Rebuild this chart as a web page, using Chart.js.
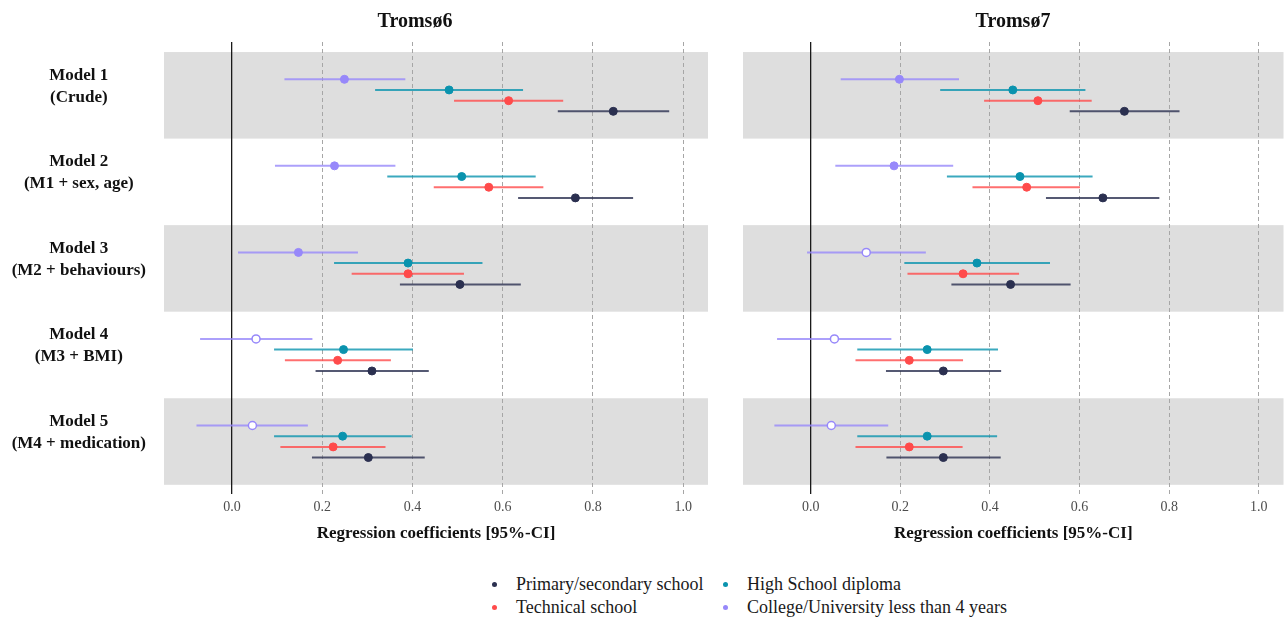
<!DOCTYPE html>
<html lang="en">
<head>
    <meta charset="UTF-8">
    <title>Tromsø6 / Tromsø7</title>
    <script src="https://cdn.jsdelivr.net/npm/chart.js@4.4.1/dist/chart.umd.min.js"></script>
    <style>
        html, body { margin: 0; padding: 0; background: #fff; overflow: hidden; }
        body { width: 1284px; height: 621px; position: relative; }
        .panel { position: absolute; top: 0; }
        .ptitle {
            position: absolute; top: 8px; width: 200px; margin-left: -100px; text-align: center;
            font-family: "Liberation Serif", serif; font-weight: bold; font-size: 20px; line-height: 24px; color: #111;
        }
        #legend {
            position: absolute; left: 492px; top: 573px;
            display: grid; grid-template-columns: 231px 290px;
            font-family: "Liberation Serif", serif; font-size: 18px; color: #1a1a1a;
        }
        #legend .item { display: flex; align-items: center; height: 23px; white-space: nowrap; }
        #legend .dot { width: 5px; height: 5px; border-radius: 50%; margin-right: 19px; flex: none; }
    </style>
</head>
<body>
    <div class="panel" style="left:0;width:716px;height:548px;"><canvas id="t6"></canvas></div>
    <div class="panel" style="left:716px;width:573px;height:548px;"><canvas id="t7"></canvas></div>
    <div class="ptitle" style="left:415px;">Tromsø6</div>
    <div class="ptitle" style="left:1013px;">Tromsø7</div>
    <div id="legend"></div>

    <script>
        // categories
        const modelLabels = [
            ['Model 1', '(Crude)'],
            ['Model 2', '(M1 + sex, age)'],
            ['Model 3', '(M2 + behaviours)'],
            ['Model 4', '(M3 + BMI)'],
            ['Model 5', '(M4 + medication)']
        ];
        const seriesNames = ['Primary/secondary school', 'Technical school', 'High School diploma', 'College/University less than 4 years'];
        const seriesColors = ['#2b3050', '#ff4b4b', '#0a93ae', '#9788fa'];
        const xTicks = [0, 0.2, 0.4, 0.6, 0.8, 1.0];

        // Tromsø6
        const t6PrimEst = [0.845, 0.761, 0.505, 0.310, 0.302];
        const t6PrimLo  = [0.722, 0.634, 0.372, 0.185, 0.177];
        const t6PrimHi  = [0.969, 0.889, 0.640, 0.436, 0.427];
        const t6TechEst = [0.613, 0.569, 0.390, 0.234, 0.224];
        const t6TechLo  = [0.492, 0.447, 0.265, 0.117, 0.107];
        const t6TechHi  = [0.734, 0.690, 0.514, 0.352, 0.340];
        const t6HighEst = [0.481, 0.509, 0.390, 0.247, 0.245];
        const t6HighLo  = [0.317, 0.344, 0.226, 0.093, 0.093];
        const t6HighHi  = [0.645, 0.673, 0.555, 0.401, 0.398];
        const t6CollEst = [0.249, 0.227, 0.147, 0.053, 0.045];
        const t6CollLo  = [0.116, 0.095, 0.013, -0.071, -0.079];
        const t6CollHi  = [0.384, 0.362, 0.279, 0.178, 0.168];

        // Tromsø7
        const t7PrimEst = [0.700, 0.652, 0.446, 0.296, 0.296];
        const t7PrimLo  = [0.578, 0.525, 0.314, 0.168, 0.169];
        const t7PrimHi  = [0.823, 0.778, 0.580, 0.425, 0.424];
        const t7TechEst = [0.507, 0.482, 0.340, 0.220, 0.220];
        const t7TechLo  = [0.387, 0.361, 0.216, 0.100, 0.100];
        const t7TechHi  = [0.627, 0.601, 0.465, 0.340, 0.339];
        const t7HighEst = [0.451, 0.467, 0.371, 0.260, 0.260];
        const t7HighLo  = [0.289, 0.304, 0.209, 0.104, 0.104];
        const t7HighHi  = [0.613, 0.629, 0.534, 0.418, 0.416];
        const t7CollEst = [0.198, 0.186, 0.124, 0.053, 0.046];
        const t7CollLo  = [0.067, 0.055, -0.008, -0.075, -0.081];
        const t7CollHi  = [0.331, 0.318, 0.257, 0.180, 0.173];

        // vertical offset of each series inside a model band (college on top, primary at bottom)
        const seriesOffset = [0.185, 0.062, -0.062, -0.185];

        const serif = '"Liberation Serif", "Times New Roman", serif';

        function hexAlpha(hex, a) {
            const n = parseInt(hex.slice(1), 16);
            return `rgba(${n >> 16}, ${(n >> 8) & 255}, ${n & 255}, ${a})`;
        }

        function buildDatasets(series) {
            const lines = [];
            const points = [];
            series.forEach((s, k) => {
                const color = seriesColors[k];
                const ci = [];
                const pts = [];
                s.est.forEach((e, i) => {
                    const y = i + 0.5 + seriesOffset[k];
                    ci.push({ x: s.lo[i], y: y }, { x: s.hi[i], y: y }, { x: s.hi[i], y: null });
                    pts.push({ x: e, y: y, hollow: s.lo[i] < 0 && s.hi[i] > 0 });
                });
                lines.push({
                    label: seriesNames[k] + ' CI',
                    data: ci,
                    showLine: true,
                    spanGaps: false,
                    borderColor: hexAlpha(color, 0.8),
                    borderWidth: 2,
                    pointRadius: 0,
                    order: 5
                });
                points.push({
                    label: seriesNames[k],
                    data: pts,
                    showLine: false,
                    pointRadius: 4,
                    pointBorderWidth: ctx => ctx.raw && ctx.raw.hollow ? 1.5 : 1,
                    pointBorderColor: color,
                    pointBackgroundColor: ctx => ctx.raw && ctx.raw.hollow ? '#ffffff' : color,
                    order: 1
                });
            });
            return lines.concat(points);
        }

        const bandPlugin = {
            id: 'bands',
            beforeDraw(chart) {
                const { ctx, chartArea, scales } = chart;
                ctx.save();
                ctx.fillStyle = '#dedede';
                for (let i = 0; i < modelLabels.length; i += 2) {
                    const y0 = scales.y.getPixelForValue(i);
                    const y1 = scales.y.getPixelForValue(i + 1);
                    ctx.fillRect(chartArea.left, y0, chartArea.right - chartArea.left, y1 - y0);
                }
                ctx.restore();
            }
        };

        function makePanel(id, series, showY) {
            return new Chart(document.getElementById(id), {
                type: 'scatter',
                data: { datasets: buildDatasets(series) },
                plugins: [bandPlugin],
                options: {
                    responsive: true,
                    maintainAspectRatio: false,
                    animation: false,
                    layout: { padding: { left: showY ? 2 : 27, right: showY ? 8 : 2, top: 42, bottom: 0 } },
                    plugins: {
                        legend: { display: false },
                        tooltip: { enabled: false },
                        title: { display: false }
                    },
                    scales: {
                        x: {
                            type: 'linear',
                            min: -0.151,
                            max: 1.055,
                            afterBuildTicks: scale => { scale.ticks = xTicks.map(v => ({ value: v })); },
                            ticks: {
                                callback: v => Number(v).toFixed(1),
                                color: '#4d4d4d',
                                font: { family: serif, size: 14 },
                                padding: 5
                            },
                            grid: {
                                drawTicks: false,
                                color: ctx => ctx.tick && ctx.tick.value === 0 ? '#1a1a1a' : '#a6a6a6',
                                lineWidth: ctx => ctx.tick && ctx.tick.value === 0 ? 1.3 : 1
                            },
                            border: {
                                display: false,
                                dash: ctx => ctx.tick && ctx.tick.value === 0 ? [] : [4, 3]
                            },
                            title: {
                                display: true,
                                text: 'Regression coefficients [95%-CI]',
                                color: '#111',
                                font: { family: serif, size: 17, weight: 'bold' },
                                padding: { top: 3, bottom: 4 }
                            }
                        },
                        y: {
                            type: 'linear',
                            reverse: true,
                            min: -0.116,
                            max: 5.104,
                            display: showY,
                            // labels sit a little above the band centre, as in the original
                            afterBuildTicks: scale => { scale.ticks = modelLabels.map((m, i) => ({ value: i + 0.396 })); },
                            afterFit: scale => { if (showY) scale.width = 162; },
                            ticks: {
                                callback: v => modelLabels[Math.round(v - 0.396)],
                                color: '#111',
                                crossAlign: 'center',
                                font: { family: serif, size: 17, weight: 'bold', lineHeight: 1.3 },
                                padding: 18
                            },
                            grid: { display: false, drawTicks: false },
                            border: { display: false }
                        }
                    }
                }
            });
        }

        makePanel('t6', [
            { est: t6PrimEst, lo: t6PrimLo, hi: t6PrimHi },
            { est: t6TechEst, lo: t6TechLo, hi: t6TechHi },
            { est: t6HighEst, lo: t6HighLo, hi: t6HighHi },
            { est: t6CollEst, lo: t6CollLo, hi: t6CollHi }
        ], true);

        makePanel('t7', [
            { est: t7PrimEst, lo: t7PrimLo, hi: t7PrimHi },
            { est: t7TechEst, lo: t7TechLo, hi: t7TechHi },
            { est: t7HighEst, lo: t7HighLo, hi: t7HighHi },
            { est: t7CollEst, lo: t7CollLo, hi: t7CollHi }
        ], false);

        // legend, two columns, row-major order
        const legendOrder = [0, 2, 1, 3];
        const legend = document.getElementById('legend');
        legendOrder.forEach(k => {
            const item = document.createElement('div');
            item.className = 'item';
            const dot = document.createElement('span');
            dot.className = 'dot';
            dot.style.background = seriesColors[k];
            const txt = document.createElement('span');
            txt.textContent = seriesNames[k];
            item.appendChild(dot);
            item.appendChild(txt);
            legend.appendChild(item);
        });
    </script>
</body>
</html>
